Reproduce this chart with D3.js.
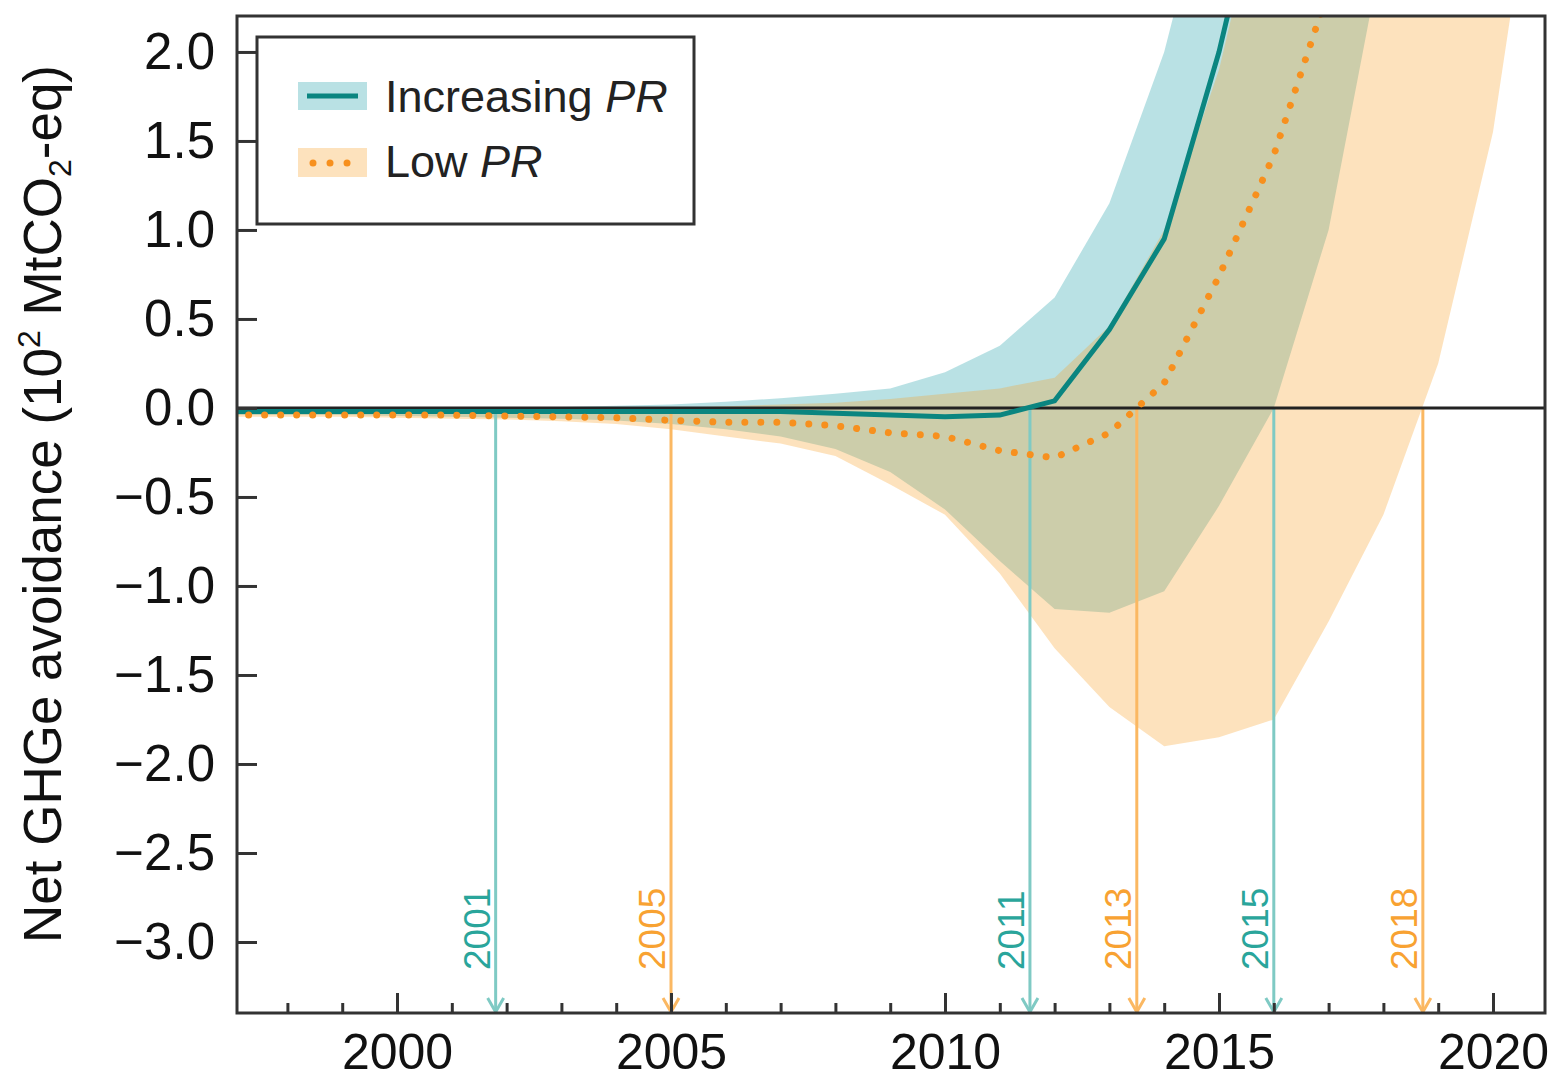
<!DOCTYPE html>
<html><head><meta charset="utf-8">
<script src="https://cdn.jsdelivr.net/npm/d3@7"></script>
<style>
html,body{margin:0;padding:0;background:#fff;}
svg{display:block;font-family:"Liberation Sans",Arial,Helvetica,sans-serif;}
</style>
</head><body>
<svg id="chart" width="1558" height="1079"></svg>
<script>
// ---------------- data ----------------
const years = [1997,1998,1999,2000,2001,2002,2003,2004,2005,2006,2007,2008,2009,2010,2011,2012,2013,2014,2015,2016,2017,2018,2019,2020,2021];
// Increasing PR: band (upper / lower) and median
const incUpper = [-0.015,-0.013,-0.01,-0.007,-0.003,0.001,0.005,0.012,0.02,0.035,0.055,0.08,0.11,0.2,0.35,0.62,1.15,2.0,3.2,5,6,7,8,9,10];
const incLower = [-0.04,-0.04,-0.04,-0.045,-0.05,-0.055,-0.06,-0.07,-0.09,-0.12,-0.16,-0.23,-0.36,-0.57,-0.86,-1.13,-1.15,-1.03,-0.55,0.0,1.0,2.6,4.5,6,8];
const incMedian = [-0.02,-0.02,-0.02,-0.02,-0.02,-0.02,-0.02,-0.02,-0.02,-0.02,-0.02,-0.03,-0.04,-0.05,-0.04,0.04,0.44,0.95,2.0,3.3,5,7,8,9,10];
// Low PR: band (upper / lower) and median
const lowUpper = [-0.01,-0.01,-0.01,-0.01,-0.01,-0.008,-0.005,-0.002,0.0,0.01,0.02,0.03,0.05,0.08,0.11,0.17,0.46,1.0,1.9,3.2,5,6,7,8,9];
const lowLower = [-0.05,-0.05,-0.05,-0.055,-0.06,-0.065,-0.075,-0.09,-0.12,-0.16,-0.2,-0.27,-0.43,-0.6,-0.93,-1.35,-1.68,-1.9,-1.85,-1.75,-1.2,-0.6,0.25,1.55,3.6];
const lowMedian = [-0.04,-0.04,-0.04,-0.04,-0.04,-0.045,-0.05,-0.055,-0.07,-0.08,-0.08,-0.1,-0.14,-0.16,-0.24,-0.28,-0.14,0.14,0.74,1.42,2.35,3.5,5,6.5,8];
// zero-crossing markers
const markYears  = [2001.8, 2005.0, 2011.55, 2013.5, 2016.0, 2018.72];
const markLabels = ["2001","2005","2011","2013","2015","2018"];
const markSeries = ["inc","low","inc","low","inc","low"];
// ticks
const yTicks = [-3,-2.5,-2,-1.5,-1,-0.5,0,0.5,1,1.5,2];
const xMajor = [2000,2005,2010,2015,2020];
const xMinor = [1998,1999,2001,2002,2003,2004,2006,2007,2008,2009,2011,2012,2013,2014,2016,2017,2018,2019];
const legendLabels = [["Increasing ","PR"],["Low ","PR"]];

// ---------------- styles ----------------
const C = {
  incFill:"rgb(80,180,188)", incFillOp:0.4,
  lowFill:"rgb(248,158,38)", lowFillOp:0.3,
  incLine:"#0a8580", lowDot:"#f7901e",
  incArrow:"#7fcac4", lowArrow:"#fbb862",
  incText:"#2aa59b", lowText:"#f8a232",
  frame:"#333"
};

const svg = d3.select("#chart");
const L=237, T=16, R=1545, B=1013;
const x = d3.scaleLinear().domain([1997.08, 2020.949]).range([L, R]);
const y = d3.scaleLinear().domain([-3.399, 2.202]).range([B, T]);

svg.append("defs").append("clipPath").attr("id","plot")
  .append("rect").attr("x",L).attr("y",T).attr("width",R-L).attr("height",B-T);

const g = svg.append("g").attr("clip-path","url(#plot)");

const idx = years.map((d,i)=>i);
const area = (up,lo)=>d3.area().x(i=>x(years[i])).y0(i=>y(lo[i])).y1(i=>y(up[i]));
const line = (v)=>d3.line().x(i=>x(years[i])).y(i=>y(v[i]));

g.append("path").attr("d",area(incUpper,incLower)(idx))
  .attr("fill",C.incFill).attr("fill-opacity",C.incFillOp);
g.append("path").attr("d",area(lowUpper,lowLower)(idx))
  .attr("fill",C.lowFill).attr("fill-opacity",C.lowFillOp);

// markers
markYears.forEach((yr,i)=>{
  const col = markSeries[i]==="inc"?C.incArrow:C.lowArrow;
  const tcol = markSeries[i]==="inc"?C.incText:C.lowText;
  const xx = x(yr), y0 = y(0), y1 = B-1;
  g.append("line").attr("x1",xx).attr("x2",xx).attr("y1",y0).attr("y2",y1)
    .attr("stroke",col).attr("stroke-width",3);
  g.append("path").attr("d",`M${xx-8},${y1-14}L${xx},${y1}L${xx+8},${y1-14}`)
    .attr("fill","none").attr("stroke",col).attr("stroke-width",3);
  svg.append("text").attr("transform",`translate(${xx-6},${970}) rotate(-90)`)
    .attr("fill",tcol).attr("font-size",37).text(markLabels[i]);
});

// zero line
g.append("line").attr("x1",L).attr("x2",R).attr("y1",y(0)).attr("y2",y(0))
  .attr("stroke","#222").attr("stroke-width",3);

// medians
g.append("path").attr("d",line(incMedian)(idx)).attr("fill","none")
  .attr("stroke",C.incLine).attr("stroke-width",5);
g.append("path").attr("d",line(lowMedian)(idx)).attr("fill","none")
  .attr("stroke",C.lowDot).attr("stroke-width",7).attr("stroke-linecap","round")
  .attr("stroke-dasharray","0.01 16");

// axes
const ay = svg.append("g").attr("transform",`translate(${L},0)`)
  .call(d3.axisLeft(y).tickValues(yTicks).tickFormat(d3.format(".1f")).tickSize(-20).tickPadding(22));
ay.select(".domain").remove();
ay.selectAll("line").attr("stroke",C.frame).attr("stroke-width",3);
ay.selectAll("text").attr("font-size",51).attr("fill","#111").attr("font-family",null);

const ax = svg.append("g").attr("transform",`translate(0,${B})`)
  .call(d3.axisBottom(x).tickValues(xMajor).tickFormat(d3.format("d")).tickSize(-20).tickPadding(0));
ax.select(".domain").remove();
ax.selectAll("line").attr("stroke",C.frame).attr("stroke-width",3);
ax.selectAll("text").attr("font-size",50).attr("fill","#111").attr("font-family",null)
  .attr("dy",null).attr("y",56);

const axm = svg.append("g").attr("transform",`translate(0,${B})`)
  .call(d3.axisBottom(x).tickValues(xMinor).tickFormat("").tickSize(-10));
axm.select(".domain").remove();
axm.selectAll("line").attr("stroke",C.frame).attr("stroke-width",3);

// frame
svg.append("rect").attr("x",L).attr("y",T).attr("width",R-L).attr("height",B-T)
  .attr("fill","none").attr("stroke",C.frame).attr("stroke-width",3);

// y title
const yt = svg.append("text").attr("transform","translate(61,504) rotate(-90)")
  .attr("text-anchor","middle").attr("font-size",53).attr("fill","#111");
yt.append("tspan").text("Net GHGe avoidance (10");
yt.append("tspan").attr("font-size",32).attr("dy",-21).text("2");
yt.append("tspan").attr("dy",21).text(" MtCO");
yt.append("tspan").attr("font-size",32).attr("dy",10).text("2");
yt.append("tspan").attr("dy",-10).text("-eq)");

// legend
const lg = svg.append("g");
lg.append("rect").attr("x",257).attr("y",37).attr("width",437).attr("height",187)
  .attr("fill","#fff").attr("stroke",C.frame).attr("stroke-width",3);
lg.append("rect").attr("x",298).attr("y",82).attr("width",69).attr("height",28)
  .attr("fill",C.incFill).attr("fill-opacity",C.incFillOp);
lg.append("line").attr("x1",307).attr("x2",358).attr("y1",96).attr("y2",96)
  .attr("stroke",C.incLine).attr("stroke-width",5);
lg.append("rect").attr("x",298).attr("y",148).attr("width",69).attr("height",29)
  .attr("fill",C.lowFill).attr("fill-opacity",C.lowFillOp);
lg.append("line").attr("x1",313).attr("x2",350).attr("y1",163).attr("y2",163)
  .attr("stroke",C.lowDot).attr("stroke-width",7).attr("stroke-linecap","round")
  .attr("stroke-dasharray","0.01 17");
legendLabels.forEach((lab,i)=>{
  const t = lg.append("text").attr("x",385).attr("y",[112,177][i]).attr("font-size",45).attr("fill","#222");
  t.append("tspan").text(lab[0]);
  t.append("tspan").attr("font-style","italic").text(lab[1]);
});
</script>
</body></html>
